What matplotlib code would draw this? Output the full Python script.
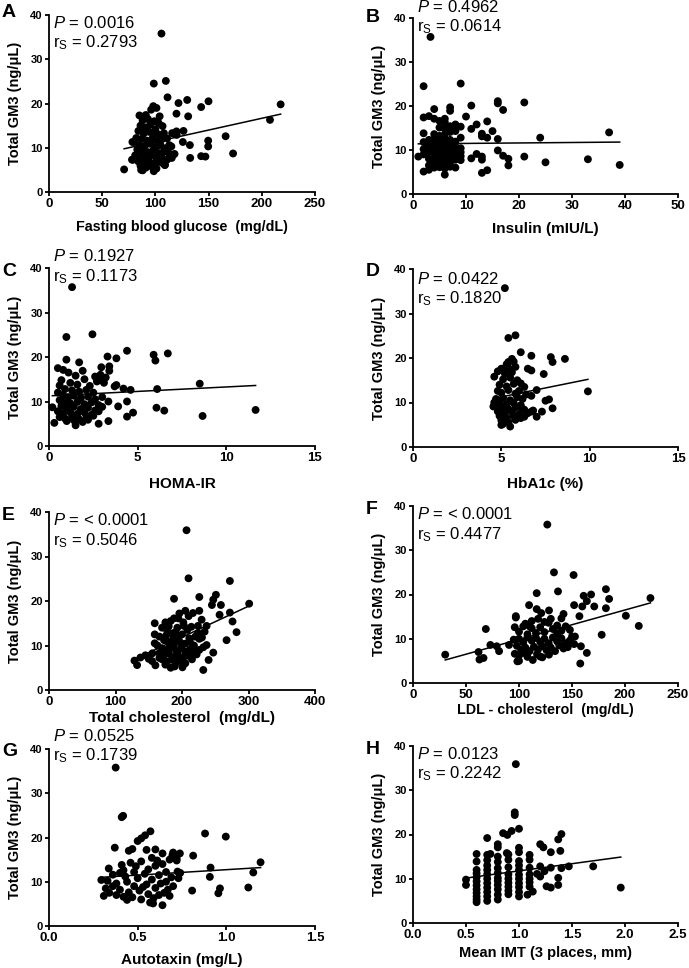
# Total GM3 vs clinical variables - 8 panel scatter with regression lines
import matplotlib
matplotlib.use("Agg")
import numpy as np
import matplotlib.pyplot as plt

plt.rcParams['font.family'] = ['Liberation Sans', 'DejaVu Sans']
plt.rcParams['mathtext.fontset'] = 'custom'
plt.rcParams['mathtext.rm'] = 'Liberation Sans'
plt.rcParams['mathtext.it'] = 'Liberation Sans:italic'

# ---------------- data ----------------
glucose_pts = [
    (105.7, 35.8), (98.5, 24.5), (109.8, 25.1), (111.4, 21.4), (129.9, 20.8), (149.9, 20.5),
    (121.7, 20.1), (217.7, 19.8), (143, 19.2), (207.7, 16.3), (130.8, 17.1), (119.8, 17.7),
    (166, 12.6), (132.4, 10.6), (149.6, 11.6), (149.6, 10.3), (132.7, 7.7), (143, 8.1),
    (147, 8.0), (173, 8.7), (125.8, 11.3), (115.7, 13.3), (119.8, 13.7), (126.4, 13.8),
    (116.7, 8.4), (115.4, 7.7), (108.8, 6.1), (70.6, 5.1), (78, 7.3), (78.4, 11.3), (86.6, 5.0),
    (85, 17.3), (91, 17.4), (96, 18.6), (101, 19.0), (98, 19.4), (104, 17.1), (88, 16.2),
    (93, 16.5), (99, 16.0), (103, 15.6), (86, 15.0), (90, 14.6), (95, 15.2), (100, 14.2),
    (106.7, 14.9), (84, 13.8), (89, 13.2), (94, 13.6), (98, 12.8), (103, 13.0), (108, 13.3),
    (82, 12.2), (87, 12.0), (92, 11.6), (97, 12.0), (102, 11.4), (106, 11.9), (111, 12.1),
    (80, 11.3), (85, 10.6), (90, 10.4), (95, 10.9), (100, 10.1), (105, 10.5), (110, 9.9),
    (113, 10.6), (83, 9.6), (88, 9.2), (93, 9.0), (98, 9.4), (103, 8.8), (108, 9.1), (113, 8.7),
    (118, 8.6), (81, 8.3), (86, 8.0), (91, 7.8), (96, 8.3), (101, 7.6), (106, 7.9), (111, 7.3),
    (79, 7.3), (84, 6.9), (89, 6.6), (94, 7.0), (99, 6.4), (104, 6.8), (109, 6.1), (86, 5.9),
    (91, 5.5), (96, 5.8), (101, 5.3), (88, 4.9), (98.5, 4.7), (120, 12.9), (117, 13.2),
    (115, 10.3), (107, 6.5),
]

insulin_pts = [
    (1, 8.5), (2, 24.5), (2, 17.4), (2, 13.8), (2, 11.8), (2, 10.2), (2, 9.0), (2, 5.1),
    (3, 17.7), (3, 12.3), (3, 10.9), (3, 9.6), (3, 8.0), (3, 6.5), (3, 5.5), (3.3, 35.7),
    (4, 19.3), (4, 17.1), (4, 13.6), (4, 12.4), (4, 11.2), (4, 10.1), (4, 9.2), (4, 8.3),
    (4, 7.2), (4, 6.0),
    (5, 16.6), (5, 15.1), (5, 13.2), (5, 12.1), (5, 11.2), (5, 10.3), (5, 9.5), (5, 8.7),
    (5, 7.9), (5, 7.0), (5, 6.1),
    (6, 17.1), (6, 16.3), (6, 14.9), (6, 13.6), (6, 12.5), (6, 11.4), (6, 10.4), (6, 9.6),
    (6, 8.8), (6, 7.9), (6, 6.9), (6, 5.8), (6, 4.4),
    (7, 19.7), (7, 18.9), (7, 15.4), (7, 14.1), (7, 12.3), (7, 11.3), (7, 10.5), (7, 9.7),
    (7, 8.9), (7, 8.0), (7, 7.1), (7, 6.2),
    (8, 15.8), (8, 14.3), (8, 11.9), (8, 10.8), (8, 9.8), (8, 8.9), (8, 7.8), (8, 6.0),
    (9, 25.1), (9, 15.3), (9, 12.8), (9, 10.4), (9, 9.5), (9, 8.6), (9, 7.7),
    (10, 17.6), (11, 20.1), (11, 14.8), (11, 8.1), (12, 15.8), (12, 9.1),
    (13, 13.7), (13, 13.1), (13, 8.5), (13, 7.8), (13, 4.8), (14, 16.5), (14, 12.8), (14, 5.4),
    (15, 14.3), (16, 21.1), (16, 20.6), (16, 12.5), (16, 9.9), (17, 19.1), (17, 8.7),
    (18, 8.0), (18, 6.5), (21, 20.8), (21, 8.5), (24, 12.8), (25, 7.2), (33, 7.9),
    (37, 14.0), (39, 6.6),
]

homa_pts = [
    (1.3, 35.7), (0.98, 24.5), (2.45, 25.1), (4.4, 21.4), (5.9, 20.5), (6.0, 19.2), (6.7, 20.8),
    (3.3, 20.1), (3.8, 19.7), (0.98, 19.4), (1.7, 18.8), (8.5, 14.0), (6.1, 12.8), (11.65, 8.1),
    (8.66, 6.75), (6.5, 7.95), (6.06, 8.6), (4.74, 7.5), (4.4, 6.6), (4.4, 10.0), (4.2, 12.9),
    (4.6, 12.6), (3.7, 13.4), (3.8, 13.7), (3.35, 10.0), (3.35, 5.6), (2.8, 5.0), (3.9, 8.9),
    (0.19, 8.7), (0.3, 5.2), (1.5, 4.65), (3.4, 17.9), (2.95, 17.7), (3.4, 16.9), (0.5, 17.5),
    (0.8, 17.1), (2.9, 16.0), (2.7, 14.5), (1.9, 16.9),
    (1.1, 16.5), (1.5, 15.8), (2.0, 15.0), (0.7, 14.8), (1.2, 14.2), (1.6, 13.8), (2.3, 13.5),
    (0.6, 13.6), (0.9, 12.8), (1.3, 12.5), (1.7, 12.2), (2.1, 12.6), (2.5, 12.0), (0.5, 12.0),
    (0.8, 11.5), (1.1, 11.0), (1.4, 11.3), (1.8, 10.8), (2.2, 11.1), (2.6, 10.5), (3.0, 11.0),
    (0.6, 10.3), (0.9, 10.0), (1.2, 9.6), (1.6, 9.9), (2.0, 9.4), (2.4, 9.8), (2.8, 9.2),
    (0.7, 9.0), (1.0, 8.6), (1.4, 8.8), (1.8, 8.3), (2.2, 8.6), (2.6, 8.0), (3.0, 8.8),
    (0.5, 7.8), (0.8, 7.4), (1.2, 7.6), (1.6, 7.2), (2.0, 7.5), (2.4, 7.0), (2.8, 7.8),
    (0.6, 6.5), (0.9, 6.2), (1.3, 6.6), (1.7, 6.0), (2.1, 6.3), (2.5, 6.8), (1.0, 5.6),
    (1.4, 5.8), (1.9, 5.4), (2.2, 5.9), (3.1, 14.2), (2.9, 14.8), (3.2, 15.4), (2.6, 15.6),
]

hba1c_pts = [
    (5.2, 35.7), (5.4, 24.5), (5.8, 25.1), (6.1, 21.3), (6.7, 20.5), (7.8, 20.2), (7.9, 19.1),
    (8.6, 19.8), (5.7, 19.2), (5.4, 19.1), (6.5, 17.6), (6.7, 17.2), (7.4, 16.4), (7.0, 12.8),
    (9.9, 12.5), (7.5, 10.4), (7.7, 10.7), (7.9, 8.7), (7.3, 7.95), (7.0, 6.8), (6.7, 7.95),
    (6.3, 6.8), (6.15, 8.7), (5.5, 4.6), (5.0, 4.95), (4.6, 15.8),
    (4.8, 17.0), (5.0, 17.6), (5.2, 16.5), (5.4, 17.8), (5.6, 16.8), (5.8, 18.0), (5.1, 15.2),
    (5.5, 15.6), (5.9, 15.0), (6.1, 14.3), (4.9, 14.0), (5.3, 13.6), (5.7, 14.2), (6.3, 13.5),
    (4.8, 12.6), (5.0, 12.2), (5.4, 12.8), (5.8, 12.0), (6.0, 12.6), (6.4, 11.8), (6.7, 11.5),
    (4.7, 10.8), (5.1, 11.0), (5.5, 10.5), (5.9, 11.2), (6.2, 10.8), (4.9, 10.0), (5.3, 9.6),
    (5.7, 9.9), (6.1, 9.4), (4.6, 9.2), (5.0, 8.8), (5.4, 8.5), (5.8, 8.9), (6.3, 8.4),
    (4.8, 8.0), (5.2, 7.6), (5.6, 7.9), (6.0, 7.4), (6.5, 7.6), (4.9, 7.0), (5.3, 6.6),
    (5.7, 6.9), (6.1, 6.5), (5.0, 6.0), (5.4, 5.6), (5.8, 6.1), (5.1, 5.2), (6.8, 8.2),
    (5.6, 19.8), (5.3, 18.6), (4.6, 10.0), (4.55, 9.1),
]

chol_pts = [
    (206.8, 35.9), (209.8, 25.1), (272, 24.5), (301, 19.4), (188, 20.5), (226, 20.9),
    (251, 21.4), (247, 20.3), (245, 19.1), (258.5, 19.1), (272, 17.4), (256.5, 16.9),
    (276, 15.4), (282, 13.0), (267, 11.2), (247, 8.4), (240, 6.75), (232, 4.5), (200.7, 5.1),
    (183, 5.0), (160, 5.55), (128.5, 6.6), (132.5, 5.6), (137.5, 7.3), (145, 7.8),
    (155.5, 8.25), (159, 10.5), (159, 12.5), (159, 15.0), (175, 15.2), (188, 16.1),
    (194.5, 16.1), (203, 14.4), (205, 17.8), (216.5, 17.3), (226, 17.8), (229.5, 15.8),
    (237, 14.4), (234, 13.1), (224, 12.8), (237, 10.1), (226, 9.0), (214, 7.9),
    (170, 14.0), (178, 13.2), (185, 12.7), (192, 12.0), (200, 12.5), (208, 13.5), (214, 14.2),
    (220, 12.0), (226, 11.5), (166, 12.0), (173, 11.2), (180, 10.8), (188, 10.2), (196, 11.0),
    (204, 10.4), (212, 10.8), (218, 10.0), (163, 10.0), (170, 9.4), (177, 9.0), (184, 9.6),
    (191, 8.8), (198, 9.3), (205, 8.6), (212, 9.2), (220, 8.4), (166, 8.3), (173, 7.8),
    (180, 8.2), (187, 7.4), (194, 7.9), (201, 7.2), (208, 7.7), (215, 6.9), (170, 6.9),
    (177, 6.4), (184, 6.8), (191, 6.1), (198, 6.5), (205, 6.0), (175, 5.7), (189, 5.3),
    (196, 7.0), (183, 15.5), (180, 14.3), (193, 14.0), (202, 15.2), (196, 17.2), (210, 16.6),
    (200, 10.0), (187, 11.5), (176, 12.2), (224, 14.4), (230, 11.8), (232, 9.6), (222, 8.0),
    (166, 7.2), (150, 7.0), (155, 6.5), (190, 13.0), (211, 11.6), (182, 9.9),
]

ldl_pts = [
    (126.7, 35.8), (133, 25.0), (151.5, 24.4), (136.8, 20.7), (116.7, 20.3), (182, 21.2),
    (168, 20.0), (161, 19.7), (185, 19.0), (224, 19.2), (164, 18.5), (171, 17.3), (182, 16.9),
    (159.7, 17.3), (152, 17.6), (109.5, 17.6), (116.7, 16.7), (121, 15.8), (128.3, 16.4),
    (142, 15.6), (157, 15.1), (200.8, 15.2), (213, 12.9), (178, 10.9), (164, 6.8), (157.8, 4.4),
    (158.4, 8.3), (152.8, 10.5), (30.4, 6.4), (62.7, 5.3), (66.5, 5.65), (61.8, 7.0),
    (68.7, 12.2), (73, 8.6), (79, 8.3), (81.2, 7.2), (90.6, 8.6), (97, 15.1), (98.5, 4.9),
    (110, 12.8), (128.3, 6.4), (119.8, 6.0),
    (96, 12.6), (100, 11.6), (104, 12.8), (108, 11.0), (112, 12.4), (116, 11.3), (120, 12.6),
    (124, 11.5), (128, 13.6), (132, 12.2), (136, 13.0), (140, 11.8), (144, 12.8), (100, 10.0),
    (104, 9.2), (108, 10.3), (112, 9.6), (116, 10.2), (120, 9.3), (124, 10.0), (128, 9.0),
    (132, 10.3), (136, 9.4), (140, 10.1), (144, 9.0), (148, 9.6), (152, 8.8), (98, 8.4),
    (102, 7.5), (106, 8.0), (110, 7.2), (114, 8.2), (118, 7.6), (122, 8.3), (126, 7.4),
    (130, 8.0), (134, 7.2), (138, 8.5), (142, 7.8), (146, 8.1), (96, 6.6), (100, 6.2),
    (104, 6.8), (108, 5.9), (113, 5.2), (117, 6.5), (122, 5.8), (100, 5.0), (95, 9.8),
    (112, 14.0), (118, 14.5), (124, 13.8), (130, 14.5), (140, 14.6), (106, 13.4), (97, 14.8),
    (136, 11.1), (150, 10.5), (148, 12.0),
]

atx_pts = [
    (0.376, 35.8), (0.418, 24.9), (0.41, 24.6), (0.371, 17.7), (0.572, 21.4), (0.542, 20.5),
    (0.52, 19.8), (0.88, 20.9), (0.997, 20.2), (1.193, 14.4), (1.152, 12.1), (1.124, 8.7),
    (0.911, 13.2), (0.907, 11.1), (0.964, 8.5), (0.955, 7.4), (0.807, 8.0), (0.813, 15.9),
    (0.738, 16.4), (0.72, 15.3), (0.696, 16.0), (0.725, 12.3), (0.73, 10.8), (0.64, 4.7),
    (0.587, 5.1), (0.309, 6.8), (0.295, 10.4), (0.337, 13.0),
    (0.33, 10.2), (0.36, 9.0), (0.32, 8.5), (0.34, 7.5), (0.38, 9.6), (0.40, 8.2), (0.42, 12.6),
    (0.41, 13.8), (0.43, 11.2), (0.44, 10.0), (0.45, 7.6), (0.42, 6.6), (0.44, 5.9), (0.47, 6.5),
    (0.48, 9.0), (0.48, 12.2), (0.49, 13.5), (0.50, 10.8), (0.51, 8.0), (0.52, 6.0), (0.52, 14.6),
    (0.54, 11.8), (0.55, 9.4), (0.56, 7.2), (0.56, 12.8), (0.58, 10.5), (0.58, 15.4), (0.60, 8.6),
    (0.60, 13.6), (0.62, 11.5), (0.62, 7.0), (0.63, 9.6), (0.64, 16.4), (0.64, 14.0), (0.66, 12.2),
    (0.66, 10.0), (0.67, 8.2), (0.68, 15.0), (0.68, 6.8), (0.69, 11.0), (0.70, 9.0), (0.70, 16.6),
    (0.45, 17.0), (0.47, 17.4), (0.50, 19.2), (0.55, 17.2), (0.60, 17.3), (0.57, 5.3), (0.40, 12.0),
    (0.38, 7.0), (0.46, 14.3), (0.53, 8.8), (0.59, 6.3), (0.61, 14.8), (0.65, 7.5), (0.36, 11.6),
    (0.72, 14.8), (0.74, 12.0),
]

imt_pts = [
    (0.5, 9.8), (0.5, 8.6),
    (0.6, 15.6), (0.6, 13.9), (0.6, 12.0), (0.6, 11.2), (0.6, 10.3), (0.6, 9.4), (0.6, 8.5),
    (0.6, 7.6), (0.6, 6.8), (0.6, 6.0), (0.6, 5.3), (0.6, 4.7),
    (0.7, 19.2), (0.7, 15.4), (0.7, 14.2), (0.7, 13.0), (0.7, 12.0), (0.7, 11.0), (0.7, 10.0),
    (0.7, 9.0), (0.7, 8.0), (0.7, 7.0), (0.7, 6.0), (0.7, 5.0), (0.73, 15.6),
    (0.8, 17.8), (0.8, 17.1), (0.8, 15.0), (0.8, 13.8), (0.8, 12.4), (0.8, 11.3), (0.8, 10.2),
    (0.8, 9.5), (0.8, 8.6), (0.8, 7.6), (0.8, 6.4), (0.8, 5.3),
    (0.85, 20.3), (0.89, 19.9), (0.93, 20.8),
    (0.9, 15.5), (0.9, 14.3), (0.9, 12.6), (0.9, 11.0), (0.9, 10.0), (0.9, 9.1), (0.9, 8.2),
    (0.9, 7.3), (0.9, 6.5), (0.885, 15.8),
    (0.97, 35.9), (0.96, 25.0), (0.96, 24.4), (1.0, 21.3),
    (1.0, 17.0), (1.0, 16.0), (1.0, 14.0), (1.0, 13.0), (1.0, 12.0), (1.0, 10.9), (1.0, 10.0),
    (1.0, 9.0), (1.0, 8.1), (1.0, 7.0), (1.0, 6.0),
    (1.1, 15.4), (1.1, 14.3), (1.1, 12.5), (1.1, 11.0), (1.1, 10.0), (1.1, 9.2), (1.1, 8.2),
    (1.13, 7.1), (1.08, 6.4),
    (1.2, 17.8), (1.23, 17.1), (1.2, 12.8), (1.24, 11.7), (1.17, 11.1), (1.2, 10.5), (1.26, 8.3),
    (1.3, 16.0), (1.3, 12.5), (1.3, 8.0),
    (1.4, 20.1), (1.37, 18.9), (1.39, 16.3), (1.4, 12.4), (1.37, 10.2), (1.37, 8.6),
    (1.47, 12.8), (1.7, 12.8), (1.96, 8.0),
]

# fitted line: GM3 value at the smallest and largest x of each panel
fit_ends = {
    'A': (9.77, 17.6), 'B': (11.4, 11.8), 'C': (11.3, 13.6), 'D': (10.9, 15.2),
    'E': (6.9, 18.9), 'F': (5.2, 18.1), 'G': (11.0, 13.2), 'H': (10.15, 14.9),
}

p_values = ['0.0016', '0.4962', '0.1927', '0.0422', '< 0.0001', '< 0.0001', '0.0525', '0.0123']
rs_values = ['0.2793', '0.0614', '0.1173', '0.1820', '0.5046', '0.4477', '0.1739', '0.2242']

x_labels = ['Fasting blood glucose  (mg/dL)', 'Insulin (mIU/L)', 'HOMA-IR', 'HbA1c (%)',
            'Total cholesterol  (mg/dL)', 'LDL - cholesterol  (mg/dL)', 'Autotaxin (mg/L)',
            'Mean IMT (3 places, mm)']
x_ticks = [[0, 50, 100, 150, 200, 250], [0, 10, 20, 30, 40, 50], [0, 5, 10, 15], [0, 5, 10, 15],
           [0, 100, 200, 300, 400], [0, 50, 100, 150, 200, 250], [0.0, 0.5, 1.0, 1.5],
           [0.0, 0.5, 1.0, 1.5, 2.0, 2.5]]
x_fmt = ['{:.0f}'] * 6 + ['{:.1f}'] * 2
letters = ['A', 'B', 'C', 'D', 'E', 'F', 'G', 'H']
all_pts = [glucose_pts, insulin_pts, homa_pts, hba1c_pts, chol_pts, ldl_pts, atx_pts, imt_pts]

# ---------------- layout (pixels in a 689 x 968 figure) ----------------
W, H = 689, 968
# left, top, right, bottom of each axes box
boxes = [(49, 15, 315, 192), (413, 18, 678, 194), (49, 268, 315, 446), (413, 269, 678, 447),
         (49, 512, 315, 690), (413, 506, 678, 683), (49, 749, 315, 926), (413, 746, 678, 923)]
xlabel_gap = [35, 35, 38, 37, 28, 27, 34, 30]
xlabel_size = [10.3, 11, 11, 11, 11, 10.3, 11, 10.5]
# axes-fraction y of the P line and the r_s line
p_y = [0.955, 1.06, 1.066, 0.945, 0.953, 0.955, 1.073, 0.955]
r_y = [0.842, 0.95, 0.95, 0.836, 0.838, 0.838, 0.964, 0.842]
letter_pos = [(2, 12.5), (366, 18), (2, 271), (366, 272), (2, 515), (366, 509.5), (2, 751.5), (366, 749.5)]

fig = plt.figure(figsize=(W / 100, H / 100), dpi=100)

for i, pts in enumerate(all_pts):
    l, t, r, b = boxes[i]
    ax = fig.add_axes([l / W, 1 - b / H, (r - l) / W, (b - t) / H])
    xs = np.array([p[0] for p in pts])
    ys = np.array([p[1] for p in pts])
    ax.scatter(xs, ys, s=32, color='black', edgecolors='none', zorder=3, clip_on=False)

    y0, y1 = fit_ends[letters[i]]
    ax.plot([xs.min(), xs.max()], [y0, y1], color='black', lw=1.1, zorder=4)

    ticks = x_ticks[i]
    ax.set_xlim(ticks[0], ticks[-1])
    ax.set_ylim(0, 40)
    ax.set_xticks(ticks)
    ax.set_xticklabels([x_fmt[i].format(v) for v in ticks], fontsize=9.5, fontweight='bold')
    ax.set_yticks([0, 10, 20, 30, 40])
    ax.set_yticklabels(['0', '10', '20', '30', '40'], fontsize=8, fontweight='bold')

    for side in ['top', 'right']:
        ax.spines[side].set_visible(False)
    for side in ['left', 'bottom']:
        ax.spines[side].set_linewidth(1.3)
    ax.tick_params(direction='out', length=3, width=1.3, pad=1.5)

    ax.set_xlabel(x_labels[i], fontsize=xlabel_size[i], fontweight='bold')
    ax.xaxis.set_label_coords(0.5, -xlabel_gap[i] / (b - t))
    ax.xaxis.label.set_va('center')
    ax.set_ylabel('Total GM3 (ng/\u03bcL)', fontsize=10.5, fontweight='bold')
    ax.yaxis.set_label_coords(-34 / (r - l), 0.5)
    ax.yaxis.label.set_va('center')

    ax.text(0.015, p_y[i], '$P$ = ' + p_values[i], transform=ax.transAxes,
            fontsize=12, va='center', ha='left')
    ax.text(0.015, r_y[i], r'r$_\mathrm{S}$ = ' + rs_values[i], transform=ax.transAxes,
            fontsize=12, va='center', ha='left')

    lx, ly = letter_pos[i]
    fig.text(lx / W, 1 - ly / H, letters[i], fontsize=14, fontweight='bold',
             ha='left', va='center')

fig.savefig('out.png', dpi=100)
